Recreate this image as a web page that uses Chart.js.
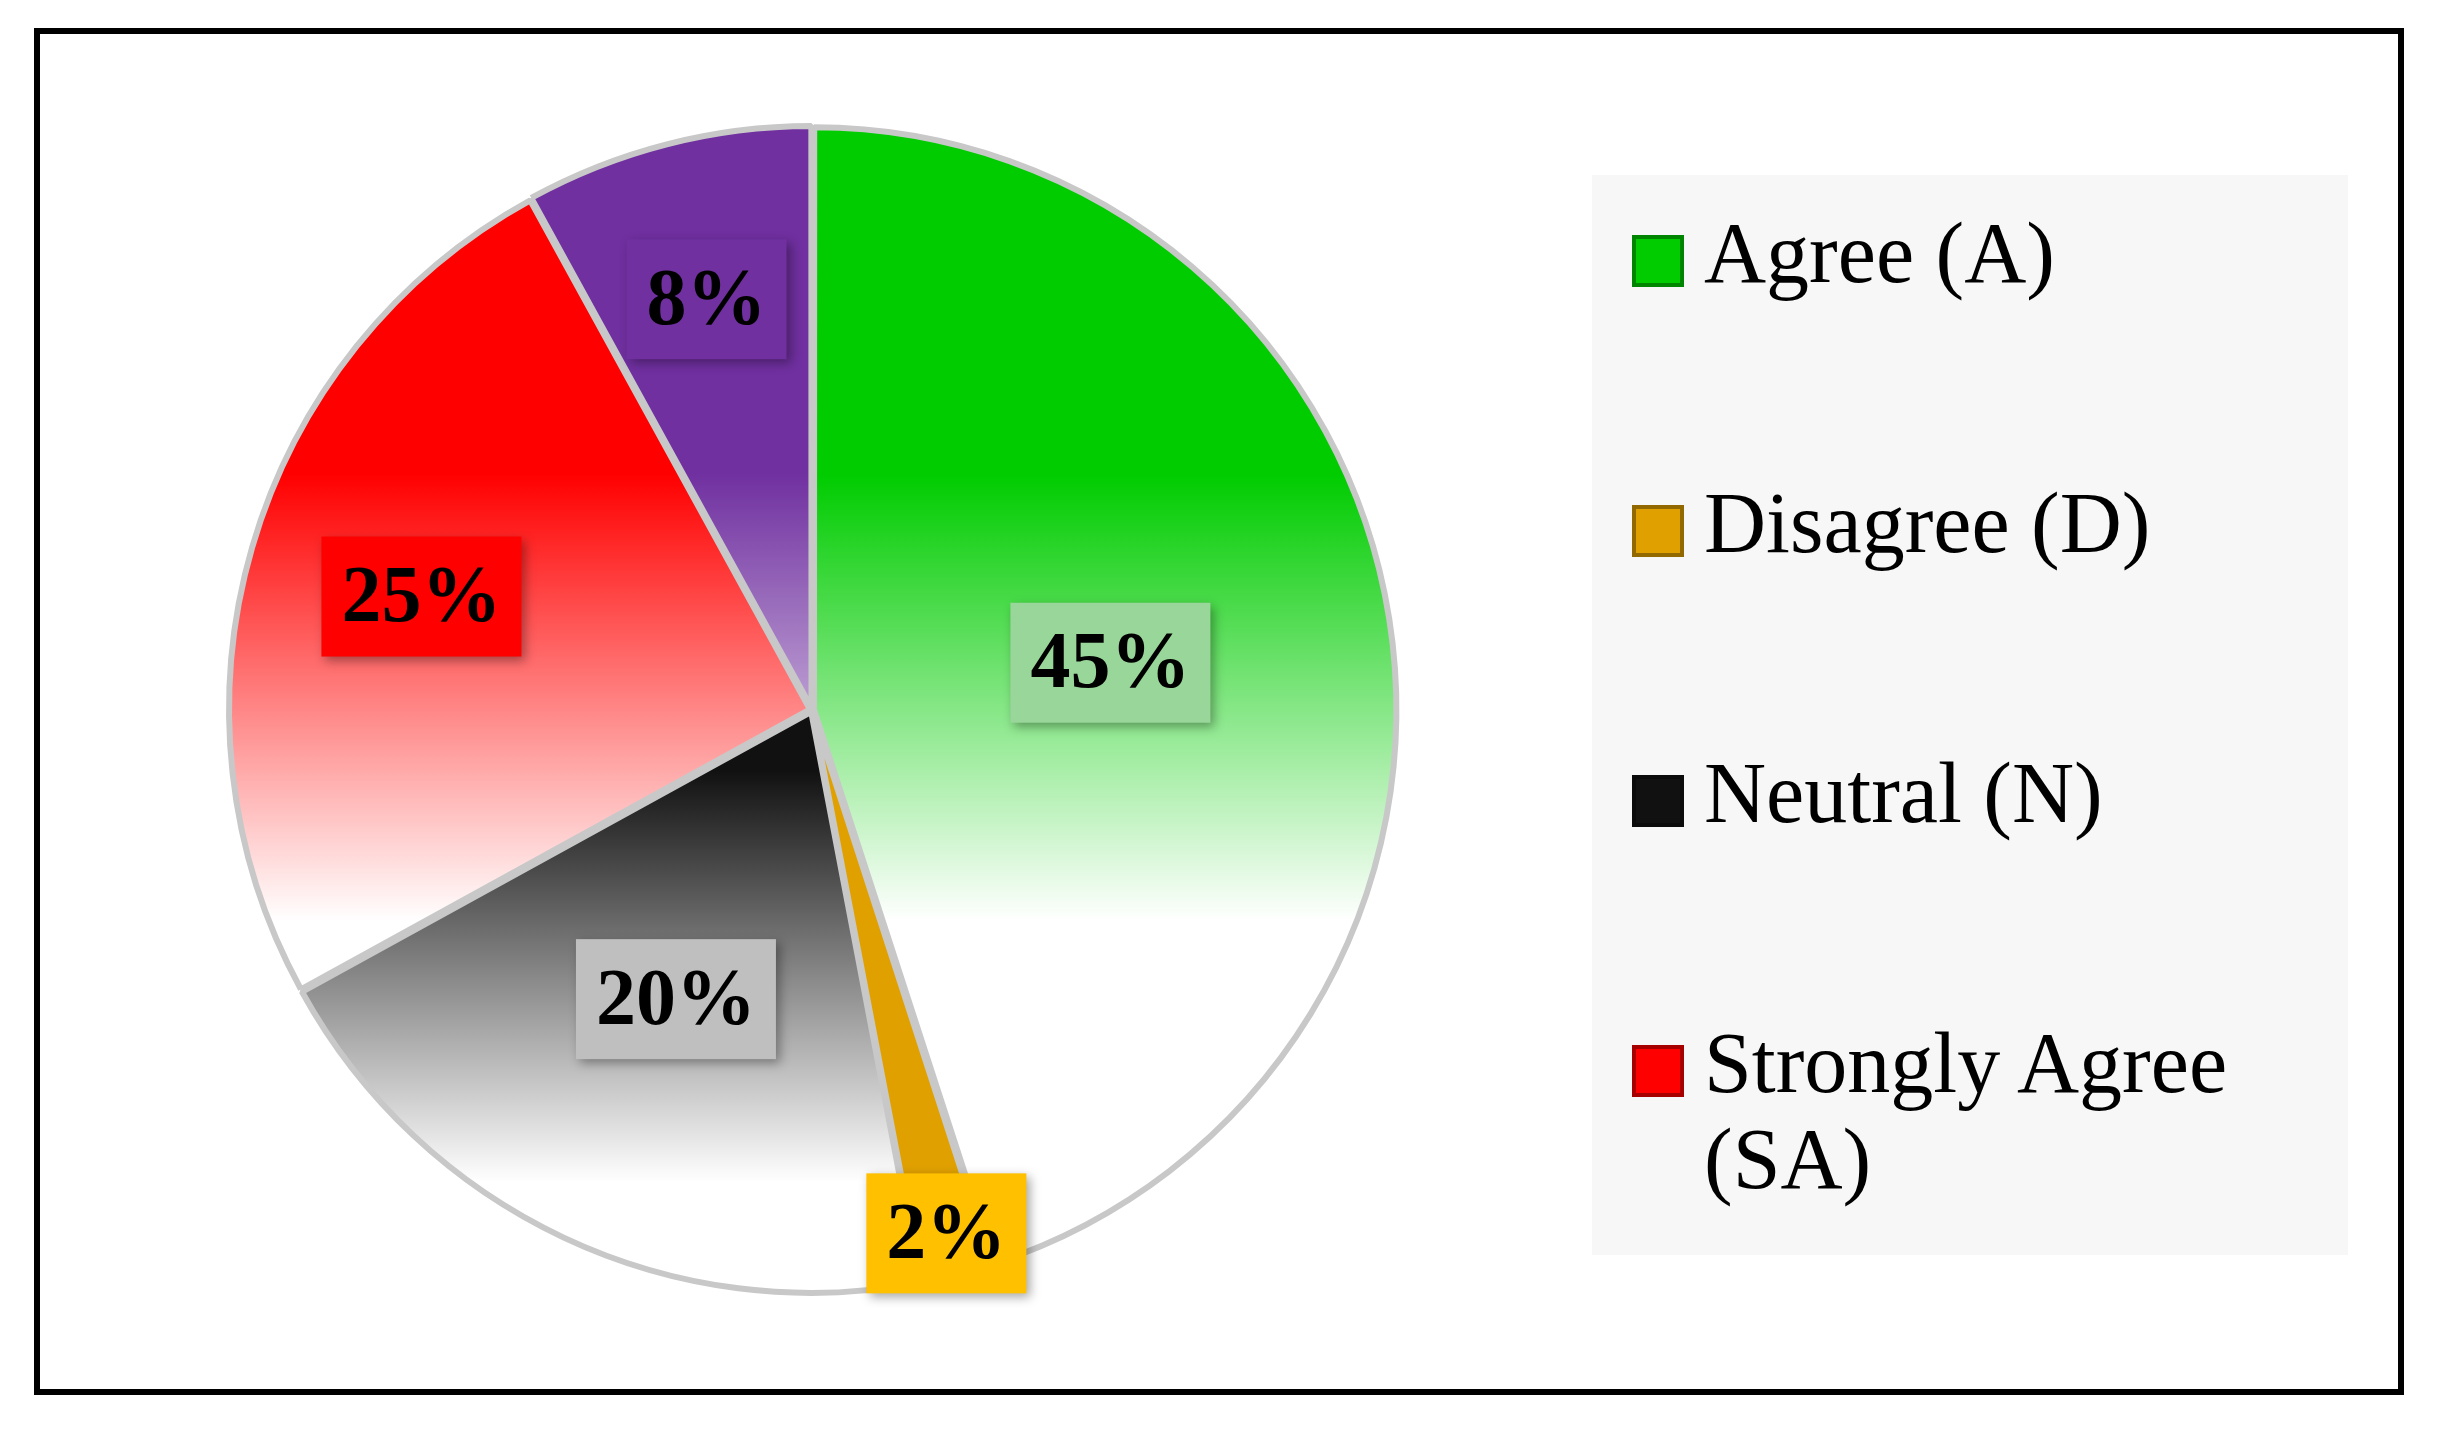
<!DOCTYPE html>
<html>
<head>
<meta charset="utf-8">
<script src="https://cdn.jsdelivr.net/npm/chart.js@4"></script>
<style>
  body { margin: 0; width: 2446px; height: 1437px; background: #fff; position: relative; overflow: hidden; }
  #frame { position: absolute; left: 34px; top: 28px; width: 2358px; height: 1355px; border: 6px solid #000; }
  #wrap { position: absolute; left: 214px; top: 112px; width: 1196px; height: 1196px; }
  #legend { position: absolute; left: 1592px; top: 175px; width: 756px; height: 1080px; background: #f7f7f7;
            font-family: "Liberation Serif", serif; font-size: 86px; color: #000; }
  .item { position: absolute; left: 40px; display: flex; align-items: flex-start; line-height: 1.12; }
  .sw { width: 52px; height: 52px; margin-right: 20px; margin-top: 30px; flex: none; box-shadow: inset 0 0 0 4px rgba(0,0,0,0.35); }
</style>
</head>
<body>
<div id="frame"></div>
<div id="wrap"><canvas id="pie"></canvas></div>
<div id="legend"></div>
<script>
// values
const categories = ['Agree (A)', 'Disagree (D)', 'Neutral (N)', 'Strongly Agree (SA)', 'Strongly Disagree (SD)'];
const values = [45, 2, 20, 25, 8];
const sliceColors = ['#00cc00', '#e0a000', '#111111', '#ff0000', '#7030a0'];
const boxColors = ['#99d699', '#ffc000', '#bfbfbf', '#ff0000', '#7030a0'];
const labelDist = [0.52, 0.93, 0.55, 0.7, 0.73];
const legendShown = [0, 1, 2, 3];
const legendTops = [30, 300, 570, 840];

function sliceGradient(ctx, i) {
    const area = ctx.chart.chartArea;
    if (!area || i === 1) return sliceColors[i];
    const g = ctx.chart.ctx.createLinearGradient(0, area.top, 0, area.bottom);
    g.addColorStop(0, sliceColors[i]);
    g.addColorStop(i === 2 ? 0.55 : 0.3, sliceColors[i]);
    g.addColorStop(i === 2 ? 0.9 : 0.68, '#ffffff');
    g.addColorStop(1, '#ffffff');
    return g;
}

const boxLabels = {
    id: 'boxLabels',
    afterDatasetsDraw(chart) {
        const c = chart.ctx;
        const meta = chart.getDatasetMeta(0);
        c.save();
        c.font = 'bold 80px "Liberation Serif"';
        c.textAlign = 'center';
        c.textBaseline = 'middle';
        meta.data.forEach((arc, i) => {
            const mid = (arc.startAngle + arc.endAngle) / 2;
            const r = arc.outerRadius * labelDist[i];
            const x = arc.x + Math.cos(mid) * r;
            const y = arc.y + Math.sin(mid) * r;
            const text = values[i] + '%';
            const w = c.measureText(text).width + 40;
            const h = 120;
            c.shadowColor = 'rgba(0,0,0,0.35)';
            c.shadowBlur = 10;
            c.shadowOffsetX = 4;
            c.shadowOffsetY = 4;
            c.fillStyle = boxColors[i];
            c.fillRect(x - w / 2, y - h / 2, w, h);
            c.shadowColor = 'transparent';
            c.fillStyle = '#000';
            c.fillText(text, x, y + 4);
        });
        c.restore();
    }
};

new Chart(document.getElementById('pie'), {
    type: 'pie',
    data: {
        labels: categories,
        datasets: [{
            data: values,
            backgroundColor: ctx => sliceGradient(ctx, ctx.dataIndex),
            borderColor: '#c8c8c8',
            borderWidth: 6,
            offset: 8
        }]
    },
    options: {
        responsive: true,
        maintainAspectRatio: true,
        animation: false,
        layout: { padding: 10 },
        plugins: { legend: { display: false }, tooltip: { enabled: false } }
    },
    plugins: [boxLabels]
});

const legend = document.getElementById('legend');
legendShown.forEach((i, k) => {
    const el = document.createElement('div');
    el.className = 'item';
    el.style.top = legendTops[k] + 'px';
    el.innerHTML = '<span class="sw" style="background:' + sliceColors[i] + '"></span><span>' + categories[i] + '</span>';
    legend.appendChild(el);
});
</script>
</body>
</html>
